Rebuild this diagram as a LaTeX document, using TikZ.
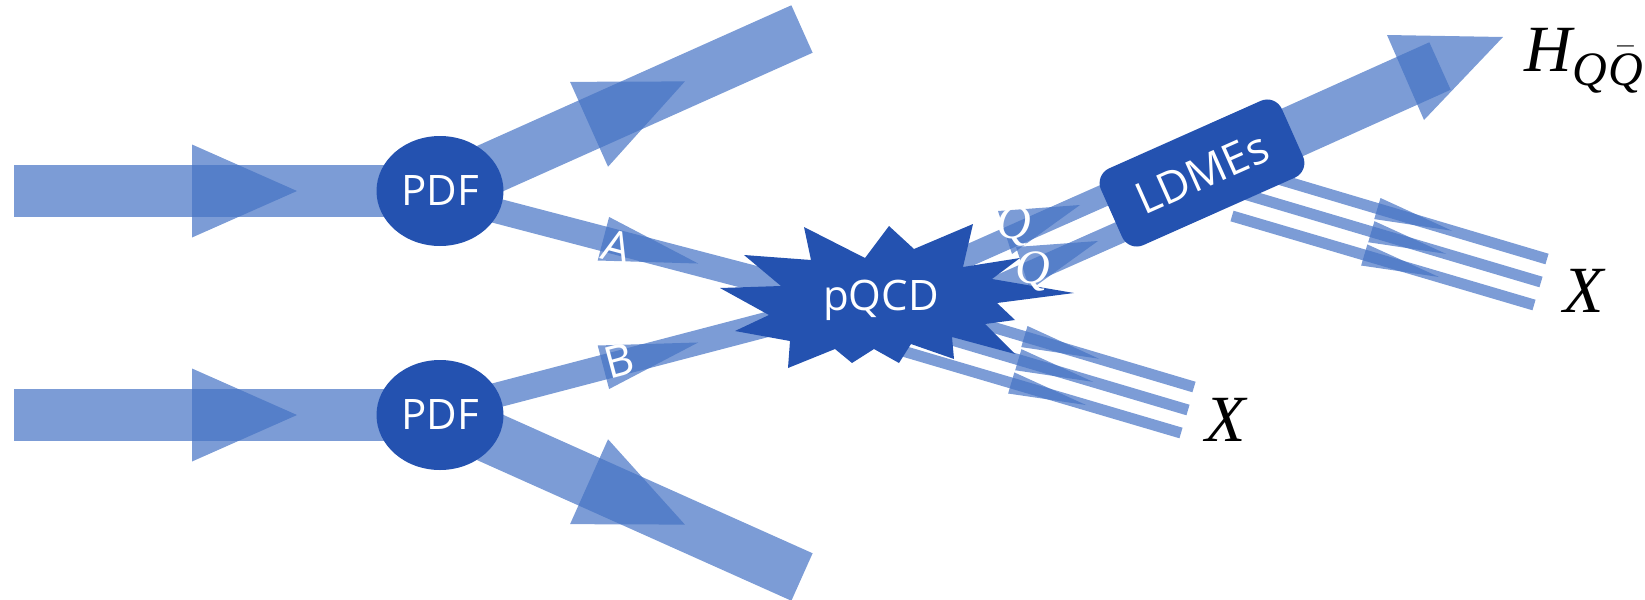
\documentclass[tikz,border=0pt]{standalone}
\usepackage{fontspec}
\setmainfont{Open Sans}
\newfontfamily\serif{Liberation Serif}
\usetikzlibrary{calc,shapes.geometric}
\definecolor{bandc}{HTML}{4472C4}
\definecolor{darkc}{RGB}{36,82,176}
\newcommand\qbar{$\bar{\hbox{\serif\itshape Q}}$}
\newcommand\tri[4]{%
  \coordinate (Ttip) at ($(#1)!#4*0.6667!(#2)$);
  \coordinate (Tbk) at ($(#1)!-#4*0.3333!(#2)$);
  \fill[tri] (Ttip) -- ($(Tbk)!#3!90:(#2)$) -- ($(Tbk)!#3!-90:(#2)$) -- cycle;
}
\tikzset{
  band/.style={draw=bandc, draw opacity=0.7, line cap=butt},
  wide/.style={band, line width=26pt},
  mid/.style={band, line width=12.5pt},
  thinq/.style={band, line width=11pt},
  thinx/.style={band, line width=5.5pt},
  tri/.style={fill=bandc, fill opacity=0.7},
  pdfnode/.style={ellipse, fill=darkc, text=white, minimum width=63.5pt, minimum height=55pt, inner sep=0pt, font=\fontsize{21}{24}\selectfont},
  ldmenode/.style={rectangle, rounded corners=8pt, fill=darkc, text=white, minimum width=99pt, minimum height=42pt, inner sep=0pt, font=\fontsize{22}{24}\selectfont},
  qcdtext/.style={text=white, inner sep=0pt, font=\fontsize{21}{24}\selectfont},
  lbl/.style={text=white, inner sep=0pt, font=\fontsize{22}{24}\selectfont},
  qlbl/.style={text=white, inner sep=0pt, font=\fontsize{24}{26}\selectfont\serif\itshape},
  xlbl/.style={text=black, inner sep=0pt, font=\fontsize{33}{38}\selectfont\serif\itshape},
}
\begin{document}
\begin{tikzpicture}[x=0.5pt,y=-0.5pt]
\useasboundingbox (0,0) rectangle (1645,600);
% coordinates
\coordinate (pA) at (440,191);
\coordinate (pB) at (440,415);
\coordinate (inAs) at (14,191);
\coordinate (inBs) at (14,415);
\coordinate (outAe) at (802,29);
\coordinate (outBe) at (802,577);
\coordinate (aS) at (440,196);
\coordinate (aE) at (830,298);
\coordinate (bS) at (440,410);
\coordinate (bE) at (830,308);
\coordinate (qS) at (920,277);
\coordinate (qE) at (1132,183);
\coordinate (qbS) at (938,313);
\coordinate (qbE) at (1150,219);
\coordinate (hS) at (1202,173);
\coordinate (hE) at (1440,66);
\coordinate (x1s) at (1231,165);
\coordinate (x1e) at (1547,259);
\coordinate (x2s) at (1234,191);
\coordinate (x2e) at (1541,282);
\coordinate (x3s) at (1232,216);
\coordinate (x3e) at (1534,305);
\coordinate (y1s) at (878,293);
\coordinate (y1e) at (1194,387);
\coordinate (y2s) at (881,319);
\coordinate (y2e) at (1188,410);
\coordinate (y3s) at (879,344);
\coordinate (y3e) at (1181,433);
% bands
\draw[wide] (inAs) -- (pA);
\draw[wide] (inBs) -- (pB);
\draw[wide] (pA) -- (outAe);
\draw[wide] (pB) -- (outBe);
\draw[mid] (aS) -- (aE);
\draw[mid] (bS) -- (bE);
\draw[thinq] (qS) -- (qE);
\draw[thinq] (qbS) -- (qbE);
\draw[wide] (hS) -- (hE);
\foreach \n in {1,2,3}{
  \draw[thinx] (x\n s) -- (x\n e);
  \draw[thinx] (y\n s) -- (y\n e);
}
% arrowheads
\coordinate (c1) at ($(inAs)!0.5!(pA)$); \tri{c1}{pA}{23.25pt}{52.5pt}
\coordinate (c2) at ($(inBs)!0.5!(pB)$); \tri{c2}{pB}{23.25pt}{52.5pt}
\coordinate (c3) at ($(pA)!0.5!(outAe)$); \tri{c3}{outAe}{23.25pt}{52.5pt}
\coordinate (c4) at ($(pB)!0.5!(outBe)$); \tri{c4}{outBe}{23.25pt}{52.5pt}
\coordinate (c5) at ($(aS)!0.5!(aE)$); \tri{c5}{aE}{11.25pt}{49pt}
\coordinate (c6) at ($(bS)!0.5!(bE)$); \tri{c6}{bE}{11.25pt}{49pt}
\fill[tri] (998,211) -- (1012,254) -- (1080,205) -- cycle;
\fill[tri] (1016,247) -- (1030,290) -- (1098,241) -- cycle;
\fill[tri] (1387,35) -- (1503,37) -- (1424,120) -- cycle;
\foreach \n in {1,2,3}{
  \coordinate (cx\n) at ($(x\n e)!75.5pt!(x\n s)$); \tri{cx\n}{x\n e}{5.5pt}{39pt}
  \coordinate (cy\n) at ($(y\n e)!75.5pt!(y\n s)$); \tri{cy\n}{y\n e}{5.5pt}{39pt}
}
% star
\begin{scope}[shift={(881,300)}]
\fill[darkc] (-161,-12) -- (-100,-14) -- (-137,-45) -- (-70,-40) -- (-77,-73) -- (-16,-42) -- (8,-74) -- (33,-51) -- (92,-76) -- (82,-33) -- (139,-42) -- (111,-21) -- (193,-7) -- (116,3) -- (134,20) -- (104,24) -- (134,54) -- (71,37) -- (73,59) -- (30,44) -- (18,63) -- (-7,49) -- (-29,63) -- (-46,49) -- (-93,68) -- (-91,41) -- (-146,31) -- (-112,15) -- cycle;
\end{scope}
\node[qcdtext] (qcd) at (881,300) {pQCD};
% nodes
\node[ldmenode, rotate=24] (ldme) at (hS) {LDMEs};
\node[pdfnode] (pdfA) at (pA) {PDF};
\node[pdfnode] (pdfB) at (pB) {PDF};
% labels
\node[lbl, rotate=-15] (la) at (617,247) {A};
\node[lbl, rotate=15] (lb) at (619,361) {B};
\node[qlbl] (lq) at (1014,226) {Q};
\node[qlbl] (lqb) at (1033,268) {\qbar};
\node[xlbl] (xu) at (1584,291) {X};
\node[xlbl] (xl) at (1226,420) {X};
\node[xlbl, anchor=base west] (hl) at (1524,71) {H\raisebox{-7pt}{\fontsize{24}{24}\selectfont Q\kern1pt\qbar}};
\end{tikzpicture}
\end{document}
